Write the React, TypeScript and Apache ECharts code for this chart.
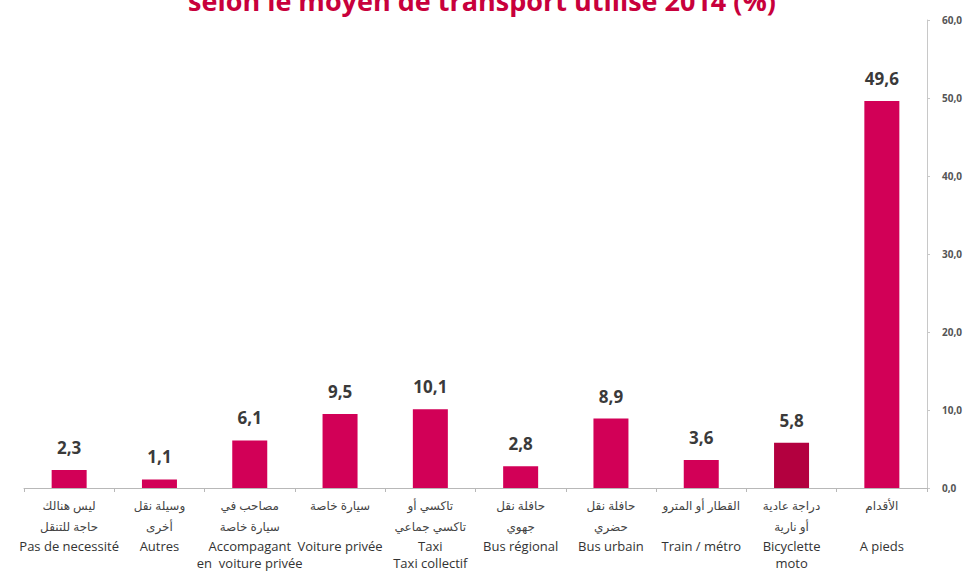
import React, { useEffect, useRef } from "react";
import * as echarts from "echarts";

const titleText = "selon le moyen de transport utilisé 2014 (%)";
const frenchLabels = [
  "Pas de necessité",
  "Autres",
  "Accompagant\nen  voiture privée",
  "Voiture privée",
  "Taxi\nTaxi collectif",
  "Bus régional",
  "Bus urbain",
  "Train / métro",
  "Bicyclette\nmoto",
  "A pieds",
];
const arabicLabels = [
  ["ليس هنالك", "حاجة للتنقل"],
  ["وسيلة نقل", "أخرى"],
  ["مصاحب في", "سيارة خاصة"],
  ["سيارة خاصة", ""],
  ["تاكسي أو", "تاكسي جماعي"],
  ["حافلة نقل", "جهوي"],
  ["حافلة نقل", "حضري"],
  ["القطار أو المترو", ""],
  ["دراجة عادية", "أو نارية"],
  ["الأقدام", ""],
];
const values = [2.3, 1.1, 6.1, 9.5, 10.1, 2.8, 8.9, 3.6, 5.8, 49.6];
const barColors = ["#d20057", "#d20057", "#d20057", "#d20057", "#d20057", "#d20057", "#d20057", "#d20057", "#b3003f", "#d20057"];
const yTicks = [0, 10, 20, 30, 40, 50, 60];

const fmt = (v: number) => v.toFixed(1).replace(".", ",");

export default function App() {
  const ref = useRef<HTMLDivElement>(null);
  useEffect(() => {
    if (!ref.current) return;
    const chart = echarts.init(ref.current, undefined, { renderer: "svg" });
    const cats = frenchLabels.map((_, i) => String(i));
    chart.setOption({
      animation: false,
      backgroundColor: "#ffffff",
      graphic: [
        {
          type: "text",
          x: 482,
          y: 0,
          style: {
            text: titleText,
            fontSize: 27,
            fontWeight: "bold",
            fontFamily: "Open Sans",
            fill: "#c8003c",
            align: "center",
            verticalAlign: "middle",
          },
        },
      ],
      grid: { left: 24, right: 44, top: 20, bottom: 84, containLabel: false },
      xAxis: {
        type: "category",
        data: cats,
        axisLine: { show: true, lineStyle: { color: "#b8b8b8", width: 1 } },
        axisTick: { show: true, length: 4, lineStyle: { color: "#b8b8b8" } },
        axisLabel: {
          interval: 0,
          margin: 7,
          formatter: (v: string) => {
            const i = Number(v);
            const ar = arabicLabels[i];
            const fr = frenchLabels[i].split("\n");
            const lines = [
              `{ar|${ar[0]}}`,
              ar[1] ? `{ar|${ar[1]}}` : `{ar| }`,
              ...fr.map((l) => `{fr|${l}}`),
            ];
            return lines.join("\n");
          },
          rich: {
            ar: {
              fontSize: 12,
              lineHeight: 21,
              color: "#444",
              fontFamily: "Noto Sans, DejaVu Sans",
            },
            fr: {
              fontSize: 13,
              lineHeight: 17,
              color: "#333",
              fontFamily: "Open Sans",
            },
          },
        },
      },
      yAxis: {
        type: "value",
        position: "right",
        min: 0,
        max: 60,
        interval: 10,
        axisLine: { show: true, lineStyle: { color: "#c8c8c8" } },
        axisTick: { show: true, length: 3, lineStyle: { color: "#c8c8c8" } },
        splitLine: { show: false },
        axisLabel: {
          margin: 15,
          fontSize: 10,
          fontWeight: "bold",
          color: "#555",
          fontFamily: "Open Sans",
          formatter: (v: number) => (yTicks.includes(v) ? fmt(v) : ""),
        },
      },
      series: [
        {
          type: "bar",
          barWidth: 35,
          data: values.map((v, i) => ({ value: v, itemStyle: { color: barColors[i] } })),
          label: {
            show: true,
            position: "top",
            distance: 14,
            fontSize: 17,
            fontWeight: "bold",
            color: "#3a3a3a",
            fontFamily: "Open Sans",
            formatter: (p: any) => fmt(p.value),
          },
        },
      ],
    });
    return () => chart.dispose();
  }, []);
  return (
    <div
      ref={ref}
      style={{ position: "fixed", left: 0, top: 0, width: 971, height: 572, background: "#fff" }}
    />
  );
}
